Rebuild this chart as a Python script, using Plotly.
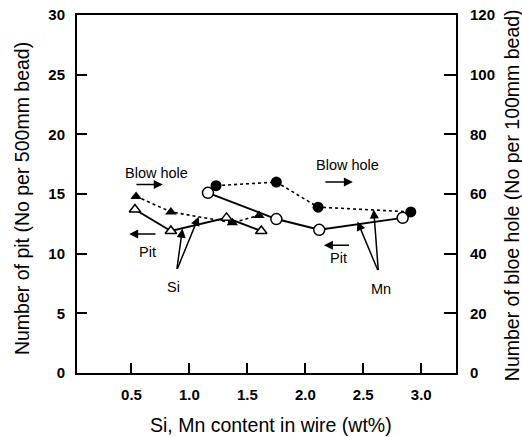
import plotly.graph_objects as go

# Si series
si_pit_x = [0.53, 0.84, 1.32, 1.62]
si_pit_y = [13.7, 11.9, 13.0, 11.9]
si_blow_x = [0.54, 0.84, 1.37, 1.60]
si_blow_y = [59.2, 54.0, 50.4, 52.8]
# Mn series
mn_pit_x = [1.16, 1.75, 2.12, 2.84]
mn_pit_y = [15.1, 12.9, 12.0, 13.0]
mn_blow_x = [1.23, 1.75, 2.11, 2.91]
mn_blow_y = [62.8, 64.0, 55.6, 54.0]

x_ticks = [0.5, 1.0, 1.5, 2.0, 2.5, 3.0]
x_ticklabels = ["0.5", "1.0", "1.5", "2.0", "2.5", "3.0"]
y_left_ticks = [0, 5, 10, 15, 20, 25, 30]
y_right_ticks = [0, 20, 40, 60, 80, 100, 120]

FONT = "Liberation Sans, Arial, sans-serif"
fig = go.Figure()

fig.add_trace(go.Scatter(x=si_blow_x, y=si_blow_y, yaxis="y2", mode="lines+markers",
                         line=dict(color="black", width=1.6, dash="dot"),
                         marker=dict(symbol="triangle-up", size=10, color="black")))
fig.add_trace(go.Scatter(x=mn_blow_x, y=mn_blow_y, yaxis="y2", mode="lines+markers",
                         line=dict(color="black", width=1.6, dash="dot"),
                         marker=dict(symbol="circle", size=11, color="black")))
fig.add_trace(go.Scatter(x=si_pit_x, y=si_pit_y, mode="lines+markers",
                         line=dict(color="black", width=2),
                         marker=dict(symbol="triangle-up", size=10, color="white",
                                     line=dict(color="black", width=1.5))))
fig.add_trace(go.Scatter(x=mn_pit_x, y=mn_pit_y, mode="lines+markers",
                         line=dict(color="black", width=2),
                         marker=dict(symbol="circle", size=11, color="white",
                                     line=dict(color="black", width=1.5))))

ann = []
def text(x, y, t):
    ann.append(dict(x=x, y=y, xref="x", yref="y", text=t, showarrow=False,
                    xanchor="center", yanchor="middle",
                    font=dict(family=FONT, size=14.5, color="black")))
def arrow(x, y, ax, ay, head=2):
    ann.append(dict(x=x, y=y, ax=ax, ay=ay, xref="x", yref="y", axref="x", ayref="y",
                    text="", showarrow=True, arrowhead=head, arrowsize=1.2,
                    arrowwidth=1.5, arrowcolor="black"))

text(0.72, 16.8, "Blow hole")
arrow(0.77, 15.8, 0.53, 15.8)
text(0.64, 10.1, "Pit")
arrow(0.48, 11.65, 0.72, 11.65)
text(0.86, 7.2, "Si")
arrow(0.94, 12.1, 0.89, 8.6)
arrow(1.08, 13.1, 0.89, 8.6)
text(2.36, 17.4, "Blow hole")
arrow(2.41, 16.0, 2.16, 16.0)
text(2.29, 9.6, "Pit")
arrow(2.16, 10.7, 2.39, 10.7)
text(2.65, 7.0, "Mn")
arrow(2.45, 12.7, 2.63, 8.5)
arrow(2.59, 13.7, 2.63, 8.5)

# axis titles as paper annotations
TF = dict(family=FONT, size=19.5, color="black")
ann.append(dict(x=-0.145, y=0.486, xref="paper", yref="paper", text="Number of pit (No per 500mm bead)",
                xanchor="center", yanchor="middle",
                textangle=-90, showarrow=False, font=TF))
ann.append(dict(x=1.148, y=0.497, xref="paper", yref="paper", text="Number of bloe hole (No per 100mm bead)",
                xanchor="center", yanchor="middle",
                textangle=-90, showarrow=False, font=TF))
ann.append(dict(x=0.513, y=-0.145, xref="paper", yref="paper", text="Si, Mn content in wire (wt%)",
                xanchor="center", yanchor="middle",
                showarrow=False, font=TF))

TK = dict(family=FONT, size=15, weight="bold")
fig.update_layout(
    width=522, height=437,
    margin=dict(l=77, r=66, t=15, b=64),
    paper_bgcolor="white", plot_bgcolor="white",
    showlegend=False,
    font=dict(family=FONT, color="black"),
    annotations=ann,
    xaxis=dict(range=[0.03, 3.3], tickvals=x_ticks, ticktext=x_ticklabels,
               ticks="inside", ticklen=10, tickwidth=2, tickcolor="black",
               showline=True, linewidth=2, linecolor="black", mirror=True,
               showgrid=False, zeroline=False, automargin=False,
               tickfont=TK, ticklabelstandoff=7),
    yaxis=dict(range=[0, 30], tickvals=y_left_ticks,
               ticks="inside", ticklen=10, tickwidth=2, tickcolor="black",
               showline=True, linewidth=2, linecolor="black",
               showgrid=False, zeroline=False, automargin=False,
               tickfont=TK, ticklabelstandoff=7),
    yaxis2=dict(range=[0, 120], tickvals=y_right_ticks, overlaying="y", side="right",
                ticks="inside", ticklen=12, tickwidth=2, tickcolor="black",
                showline=True, linewidth=2, linecolor="black",
                showgrid=False, zeroline=False, automargin=False,
                tickfont=TK, ticklabelstandoff=9),
)

fig.write_html("out.html", config={"displayModeBar": False},
               post_script="document.body.style.margin='0';")
